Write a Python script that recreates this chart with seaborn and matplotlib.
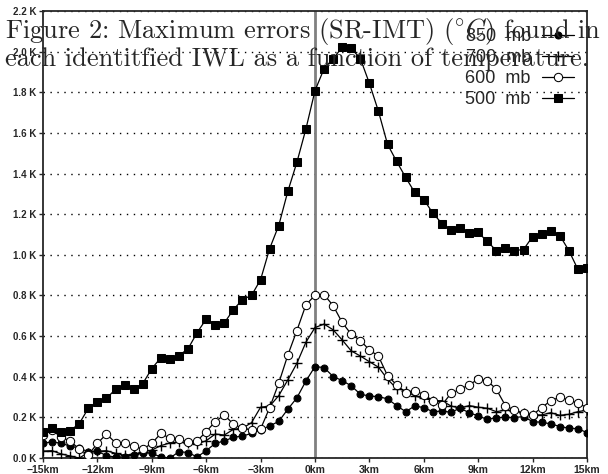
import numpy as np
import pandas as pd
import seaborn as sns
import matplotlib.pyplot as plt

# distance from the IWL centre (km), one sample every 0.5 km
dist = [-15, -14.5, -14, -13.5, -13, -12.5, -12, -11.5, -11, -10.5,
        -10, -9.5, -9, -8.5, -8, -7.5, -7, -6.5, -6, -5.5,
        -5, -4.5, -4, -3.5, -3, -2.5, -2, -1.5, -1, -0.5,
        0, 0.5, 1, 1.5, 2, 2.5, 3, 3.5, 4, 4.5,
        5, 5.5, 6, 6.5, 7, 7.5, 8, 8.5, 9, 9.5,
        10, 10.5, 11, 11.5, 12, 12.5, 13, 13.5, 14, 14.5, 15]

mb850 = [0.072, 0.08, 0.072, 0.059, 0.048, 0.031, 0.034, 0.011, 0.005, 0.005,
         0.015, 0.027, 0.023, 0.005, 0.0, 0.031, 0.027, 0.005, 0.036, 0.072,
         0.084, 0.102, 0.108, 0.121, 0.138, 0.158, 0.18, 0.24, 0.296, 0.379,
         0.45, 0.445, 0.401, 0.381, 0.355, 0.314, 0.305, 0.302, 0.291, 0.258,
         0.228, 0.256, 0.248, 0.228, 0.231, 0.225, 0.245, 0.223, 0.207, 0.19,
         0.199, 0.2, 0.199, 0.204, 0.179, 0.176, 0.168, 0.155, 0.147, 0.144, 0.125]

mb700 = [0.034, 0.036, 0.02, 0.01, 0.0, 0.027, 0.033, 0.036, 0.023, 0.013,
         0.02, 0.028, 0.039, 0.061, 0.074, 0.079, 0.076, 0.069, 0.085, 0.118,
         0.113, 0.141, 0.146, 0.174, 0.25, 0.255, 0.307, 0.384, 0.466, 0.57,
         0.642, 0.659, 0.631, 0.581, 0.527, 0.502, 0.474, 0.447, 0.388, 0.342,
         0.332, 0.305, 0.294, 0.282, 0.282, 0.256, 0.245, 0.258, 0.25, 0.245,
         0.228, 0.236, 0.233, 0.22, 0.212, 0.212, 0.223, 0.21, 0.215, 0.228, 0.236]

mb600 = [0.113, 0.138, 0.102, 0.084, 0.043, 0.015, 0.072, 0.118, 0.075, 0.072,
         0.059, 0.043, 0.072, 0.121, 0.097, 0.093, 0.08, 0.084, 0.13, 0.179,
         0.212, 0.166, 0.146, 0.138, 0.143, 0.248, 0.368, 0.506, 0.627, 0.754,
         0.801, 0.804, 0.75, 0.667, 0.609, 0.578, 0.532, 0.501, 0.405, 0.36,
         0.322, 0.332, 0.312, 0.282, 0.261, 0.318, 0.338, 0.36, 0.388, 0.381,
         0.338, 0.258, 0.235, 0.22, 0.212, 0.248, 0.282, 0.299, 0.286, 0.269, 0.248]

mb500 = [0.13, 0.149, 0.13, 0.135, 0.169, 0.245, 0.277, 0.294, 0.338, 0.358,
         0.338, 0.366, 0.44, 0.494, 0.489, 0.504, 0.538, 0.617, 0.684, 0.655,
         0.665, 0.73, 0.78, 0.80, 0.878, 1.031, 1.144, 1.312, 1.455, 1.62,
         1.808, 1.916, 1.966, 2.021, 2.016, 1.966, 1.844, 1.706, 1.544, 1.46,
         1.381, 1.307, 1.272, 1.205, 1.154, 1.12, 1.133, 1.105, 1.11, 1.066,
         1.021, 1.036, 1.021, 1.026, 1.09, 1.10, 1.116, 1.095, 1.021, 0.928, 0.936]

levels = ["850  mb", "700  mb", "600  mb", "500  mb"]
xticks = [-15, -12, -9, -6, -3, 0, 3, 6, 9, 12, 15]
xticklabels = ["\u221215km", "\u221212km", "\u22129km", "\u22126km", "\u22123km",
               "0km", "3km", "6km", "9km", "12km", "15km"]
yticks = [0.0, 0.2, 0.4, 0.6, 0.8, 1.0, 1.2, 1.4, 1.6, 1.8, 2.0, 2.2]
title_lines = ["Figure 2: Maximum errors (SR-IMT) ($^{\\circ}C$) found in",
               "each identitfied IWL as a function of temperature."]

df = pd.DataFrame({"dist": dist * 4,
                   "err": mb850 + mb700 + mb600 + mb500,
                   "level": [lv for lv in levels for _ in dist]})

sns.set_style("ticks")
plt.rcParams["font.family"] = ["Liberation Sans", "DejaVu Sans"]
plt.rcParams["mathtext.fontset"] = "cm"

fig = plt.figure(figsize=(6.08, 4.74), dpi=100)
ax = fig.add_axes([43 / 608, 16 / 474, 544 / 608, 447 / 474])

styles = {
    "850  mb": dict(marker="o", markersize=5, markerfacecolor="black"),
    "700  mb": dict(marker="+", markersize=7, markeredgewidth=1.0),
    "600  mb": dict(marker="o", markersize=6, markerfacecolor="white"),
    "500  mb": dict(marker="s", markersize=6, markerfacecolor="black"),
}

ax.axvline(0, color="#808080", linewidth=2, zorder=1)
for lv in levels:
    sub = df[df["level"] == lv]
    sns.lineplot(data=sub, x="dist", y="err", ax=ax, color="black",
                 linewidth=0.9, markeredgecolor="black", label=lv,
                 zorder=3, **styles[lv])

ax.set_xlim(-15, 15)
ax.set_ylim(0, 2.2)
ax.set_xticks(xticks)
ax.set_xticklabels(xticklabels, fontweight="bold", fontsize=7.5)
ax.set_yticks(yticks)
ax.set_yticklabels([f"{v:.1f} K" for v in yticks], fontweight="bold", fontsize=7)
ax.set_xlabel("")
ax.set_ylabel("")
ax.tick_params(direction="out", length=3, width=1, pad=2)
ax.yaxis.grid(True, color="black", linestyle=(0, (1, 4)), linewidth=1.0)
for sp in ax.spines.values():
    sp.set_linewidth(1.3)
    sp.set_visible(True)

ax.legend(loc="upper right", bbox_to_anchor=(574 / 608, 1 - 28 / 474),
          bbox_transform=fig.transFigure, frameon=False, markerfirst=False,
          fontsize=13, handlelength=1.8, handletextpad=0.6, labelspacing=0.22,
          borderpad=0, borderaxespad=0)

for i, line in enumerate(title_lines):
    fig.text(5 / 608, 1 - (38 + 28 * i) / 474, line, family="cmr10",
             fontsize=19, va="baseline", ha="left")

fig.savefig("out.png", dpi=100)
